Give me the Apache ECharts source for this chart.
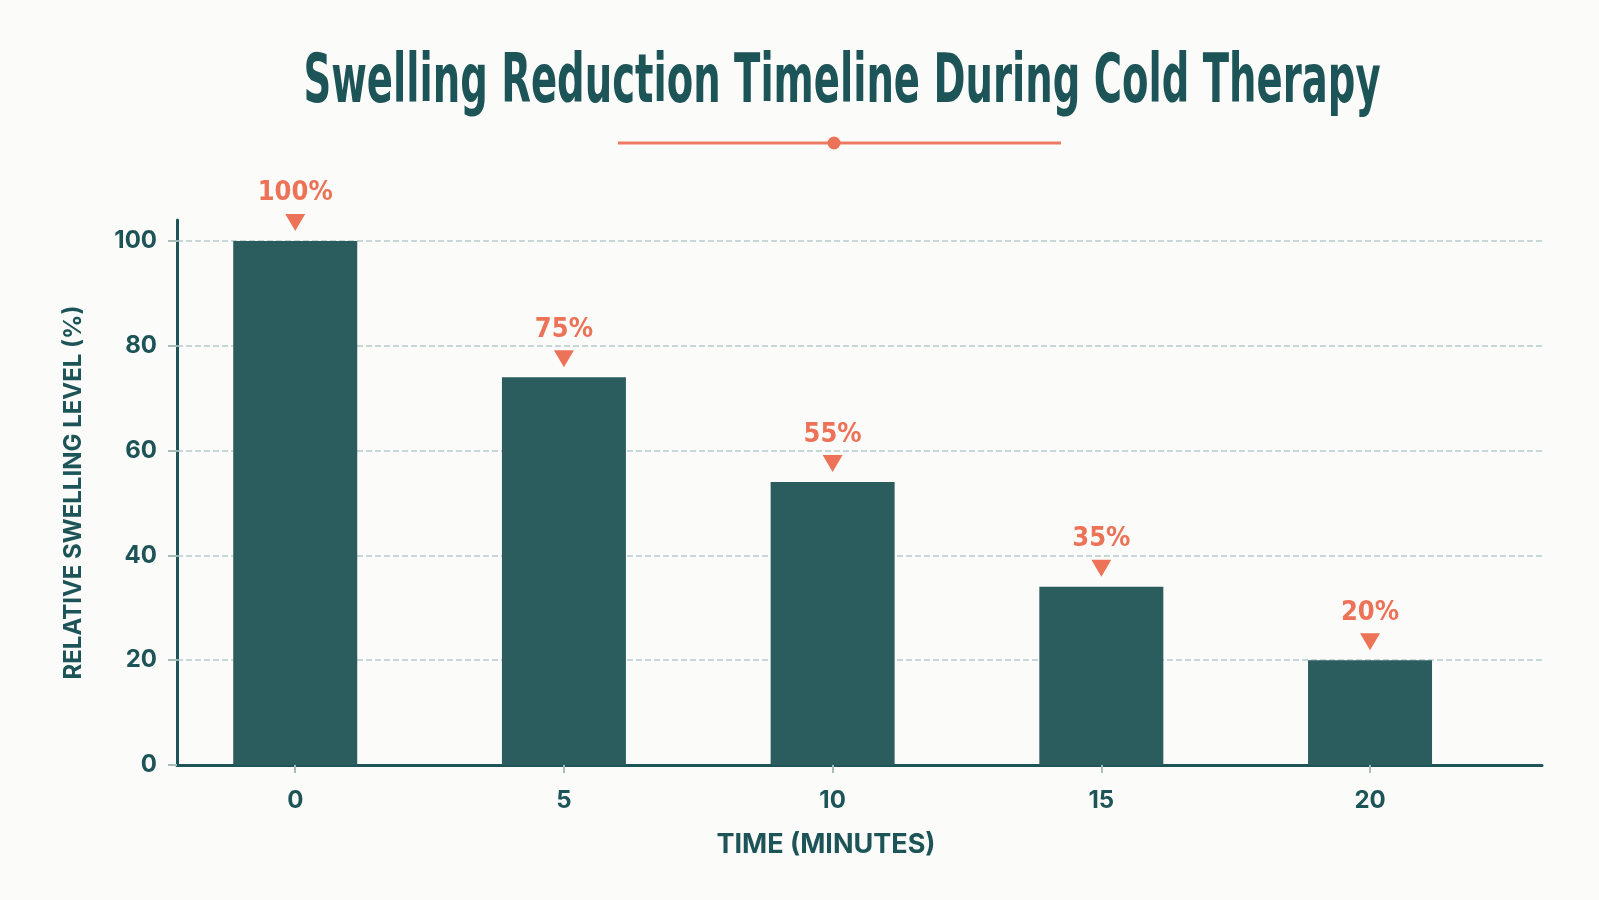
<!DOCTYPE html>
<html>
<head>
<meta charset="utf-8">
<script src="https://cdn.jsdelivr.net/npm/echarts@6/dist/echarts.min.js"></script>
<style>
  html, body { margin: 0; padding: 0; background: #fbfbf9; }
  #charts_main { width: 1599px; height: 900px; }
</style>
</head>
<body>
<div id="charts_main"></div>
<script>
// data
const minutes = [0, 5, 10, 15, 20];
const swelling = [100, 74, 54, 34, 20];      // bar heights as drawn
const swellingLabels = [100, 75, 55, 35, 20]; // values printed above the bars
const yTicks = [0, 20, 40, 60, 80, 100];
const xTicks = [0, 5, 10, 15, 20];

const teal = '#1d5457';
const barColor = '#2b5d5f';
const coral = '#ec7357';
const narrow = '"DejaVu Sans Condensed", sans-serif';

function init() {
  let Chart = echarts.init(document.getElementById('charts_main'));

  let option = {
    backgroundColor: '#fbfbf9',
    animation: false,
    graphic: [
      {
        type: 'text',
        x: 842,
        y: 85,
        scaleX: 0.64,
        style: {
          text: 'Swelling Reduction Timeline During Cold Therapy',
          font: 'bold 67px ' + narrow,
          fill: teal,
          align: 'center',
          verticalAlign: 'middle'
        }
      },
      {
        type: 'line',
        shape: { x1: 618, y1: 143, x2: 1061, y2: 143 },
        style: { stroke: '#ec7a62', lineWidth: 3 }
      },
      {
        type: 'circle',
        shape: { cx: 834, cy: 143, r: 6.5 },
        style: { fill: coral }
      }
    ],
    grid: {
      left: 177,
      right: 57,
      top: 220,
      bottom: 135
    },
    xAxis: {
      type: 'value',
      min: -2.2,
      max: 23.2,
      name: 'TIME (MINUTES)',
      nameLocation: 'middle',
      nameGap: 66,
      nameTextStyle: {
        fontFamily: 'Inter',
        fontWeight: 700,
        fontSize: 27,
        color: teal,
        padding: [0, 67, 0, 0]
      },
      axisLine: { show: true, onZero: false, lineStyle: { color: teal, width: 3 } },
      axisTick: { show: true, customValues: xTicks, length: 8, lineStyle: { color: '#a9bcbc', width: 2 } },
      axisLabel: {
        customValues: xTicks,
        margin: 24,
        fontFamily: 'Inter',
        fontWeight: 700,
        fontSize: 24,
        color: teal
      },
      splitLine: { show: false }
    },
    yAxis: {
      type: 'value',
      min: 0,
      max: 104,
      name: 'RELATIVE SWELLING LEVEL (%)',
      nameLocation: 'middle',
      nameRotate: 90,
      nameGap: 91,
      nameTextStyle: {
        fontFamily: 'Inter',
        fontWeight: 700,
        fontSize: 24,
        color: teal
      },
      axisLine: { show: true, onZero: false, lineStyle: { color: teal, width: 3 } },
      axisTick: { show: true, customValues: yTicks, length: 9, lineStyle: { color: '#a9bcbc', width: 2 } },
      axisLabel: {
        customValues: yTicks,
        margin: 20,
        fontFamily: 'Inter',
        fontWeight: 700,
        fontSize: 24,
        color: teal
      },
      splitLine: { show: false }
    },
    series: [
      {
        name: 'Swelling',
        type: 'bar',
        z: 2,
        barWidth: 124,
        itemStyle: { color: barColor },
        data: minutes.map((m, i) => [m, swelling[i]]),
        markLine: {
          z: 1,
          silent: true,
          symbol: 'none',
          label: { show: false },
          lineStyle: { color: '#b7caca', width: 1.5, type: [6, 3] },
          data: yTicks.filter(v => v > 0).map(v => ({ yAxis: v }))
        }
      },
      {
        name: 'Marker',
        type: 'scatter',
        z: 3,
        symbol: 'path://M0,0L20,0L10,17Z',
        symbolSize: [20, 17],
        symbolOffset: [0, -18.5],
        itemStyle: { color: coral, opacity: 1 },
        label: {
          show: true,
          position: 'top',
          distance: 7,
          formatter: p => swellingLabels[p.dataIndex] + '%',
          fontFamily: narrow,
          fontWeight: 'bold',
          fontSize: 27,
          color: coral
        },
        data: minutes.map((m, i) => [m, swelling[i]])
      }
    ]
  };
  Chart.setOption(option);
}

init();
</script>
</body>
</html>
